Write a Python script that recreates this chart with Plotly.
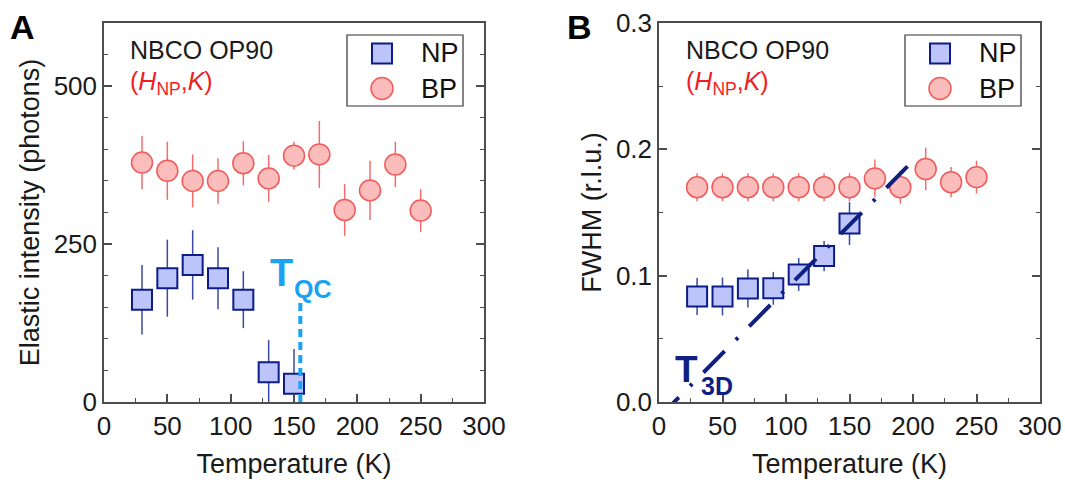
import plotly.graph_objects as go

# ---------------- data ----------------
T_np = [30, 50, 70, 90, 110, 130, 150]
T_bp = [30, 50, 70, 90, 110, 130, 150, 170, 190, 210, 230, 250]

int_np = [162, 196, 217, 196, 162, 47, 29]
int_np_err = [55, 61, 55, 49, 45, 51, 55]
int_bp = [379, 366, 350, 350, 378, 354, 390, 392, 304, 335, 376, 303]
int_bp_err = [42, 46, 42, 36, 35, 37, 22, 53, 41, 47, 36, 34]

fwhm_np = [0.0835, 0.0835, 0.0898, 0.0900, 0.1010, 0.1155, 0.1412]
fwhm_np_err = [0.0147, 0.0150, 0.0150, 0.0130, 0.0130, 0.0120, 0.0170]
fwhm_bp = [0.170, 0.170, 0.170, 0.170, 0.170, 0.170, 0.170, 0.177, 0.170, 0.1844, 0.174, 0.178]
fwhm_bp_err = [0.011, 0.011, 0.011, 0.011, 0.011, 0.011, 0.011, 0.015, 0.013, 0.017, 0.012, 0.013]

tqc_T = [155, 155]
tqc_y = [0, 161]
t3d_fit_T = [-1, 197.6]
t3d_fit_w = [-0.0132, 0.1884]

x_ticks = [0, 50, 100, 150, 200, 250, 300]

# ---------------- styles ----------------
FONT = "Liberation Sans, Arial, sans-serif"
NP_FILL, NP_EDGE, NP_ERR = "#bcc4fa", "#0c1c8a", "#3a4aa0"
BP_FILL, BP_EDGE, BP_ERR = "#fbbcbc", "#f25a5a", "#f26c6c"
QC_COL = "#1aa3f2"
T3D_COL = "#0f1f82"
AX_COL = "#4d4d4d"

W, H = 1065, 485
ML, MR, MT, MB = 104, 25, 23, 83
PW, PH = W - ML - MR, H - MT - MB


def px(x):
    return (x - ML) / PW


def py(y):
    return (H - MB - y) / PH


fig = go.Figure()

# Panel A
fig.add_trace(go.Scatter(
    x=T_np, y=int_np, mode="markers", name="NP", xaxis="x", yaxis="y",
    error_y=dict(type="data", array=int_np_err, color=NP_ERR, thickness=1.5, width=0),
    marker=dict(symbol="square", size=20, color=NP_FILL, line=dict(color=NP_EDGE, width=2)),
    showlegend=False))
fig.add_trace(go.Scatter(
    x=T_bp, y=int_bp, mode="markers", name="BP", xaxis="x", yaxis="y",
    error_y=dict(type="data", array=int_bp_err, color=BP_ERR, thickness=1.5, width=0),
    marker=dict(symbol="circle", size=21, color=BP_FILL, line=dict(color=BP_EDGE, width=1.5)),
    showlegend=False))
fig.add_trace(go.Scatter(
    x=tqc_T, y=tqc_y, mode="lines", xaxis="x", yaxis="y",
    line=dict(color=QC_COL, width=4, dash="8px,5px"), showlegend=False))

# Panel B
fig.add_trace(go.Scatter(
    x=T_np, y=fwhm_np, mode="markers", name="NP", xaxis="x2", yaxis="y2",
    error_y=dict(type="data", array=fwhm_np_err, color=NP_ERR, thickness=1.5, width=0),
    marker=dict(symbol="square", size=20, color=NP_FILL, line=dict(color=NP_EDGE, width=2)),
    showlegend=False))
fig.add_trace(go.Scatter(
    x=T_bp, y=fwhm_bp, mode="markers", name="BP", xaxis="x2", yaxis="y2",
    error_y=dict(type="data", array=fwhm_bp_err, color=BP_ERR, thickness=1.5, width=0),
    marker=dict(symbol="circle", size=21, color=BP_FILL, line=dict(color=BP_EDGE, width=1.5)),
    showlegend=False))
fig.add_trace(go.Scatter(
    x=t3d_fit_T, y=t3d_fit_w, mode="lines", xaxis="x2", yaxis="y2",
    line=dict(color=T3D_COL, width=4, dash="30px,16px,3px,16px"), showlegend=False))


def xax(domain):
    return dict(
        domain=domain, range=[0, 300], tickmode="array", tickvals=x_ticks,
        ticks="inside", ticklen=8, tickwidth=1.5, tickcolor=AX_COL,
        minor=dict(ticks="inside", ticklen=4, tickwidth=1.2, tickcolor=AX_COL, dtick=25, tick0=0),
        showline=True, linecolor=AX_COL, linewidth=1.5, mirror=True,
        showgrid=False, zeroline=False,
        tickfont=dict(size=26, color="#1a1a1a", family=FONT),
        title=dict(text="Temperature (K)", font=dict(size=27, color="#1a1a1a", family=FONT), standoff=14),
    )


def yax(rng, dtick, mdtick, fmt, title, anchor):
    return dict(
        domain=[0, 1], range=rng, tickmode="linear", tick0=0, dtick=dtick, tickformat=fmt,
        anchor=anchor,
        ticks="inside", ticklen=8, tickwidth=1.5, tickcolor=AX_COL,
        minor=dict(ticks="inside", ticklen=4, tickwidth=1.2, tickcolor=AX_COL, dtick=mdtick, tick0=0),
        showline=True, linecolor=AX_COL, linewidth=1.5, mirror="ticks",
        showgrid=False, zeroline=False,
        tickfont=dict(size=26, color="#1a1a1a", family=FONT),
        title=dict(text=title, font=dict(size=27, color="#1a1a1a", family=FONT), standoff=6),
    )


xA = xax([0, 380 / PW])
xB = xax([(659 - ML) / PW, 1])
xA["anchor"] = "y"
xB["anchor"] = "y2"

shapes = []
annotations = []


def legend(box_l, box_r):
    # frame
    shapes.append(dict(type="rect", xref="paper", yref="paper",
                       x0=px(box_l), x1=px(box_r), y0=py(106), y1=py(35),
                       line=dict(color="#333333", width=1.2), fillcolor="rgba(0,0,0,0)"))
    sx = box_l + 35
    shapes.append(dict(type="rect", xref="paper", yref="paper", xsizemode="pixel", ysizemode="pixel",
                       xanchor=px(sx), yanchor=py(53.5), x0=-10, x1=10, y0=-10, y1=10,
                       line=dict(color=NP_EDGE, width=2), fillcolor=NP_FILL))
    shapes.append(dict(type="circle", xref="paper", yref="paper", xsizemode="pixel", ysizemode="pixel",
                       xanchor=px(sx), yanchor=py(88.5), x0=-11, x1=11, y0=-11, y1=11,
                       line=dict(color=BP_EDGE, width=1.5), fillcolor=BP_FILL))
    for txt, yy in (("NP", 53.5), ("BP", 88.5)):
        annotations.append(dict(text=txt, xref="paper", yref="paper", x=px(box_l + 72), y=py(yy),
                                xanchor="left", yanchor="middle", showarrow=False,
                                font=dict(size=27, color="#111111", family=FONT)))


def label(text, x, y, size, color, bold=False):
    annotations.append(dict(text=(f"<b>{text}</b>" if bold else text), xref="paper", yref="paper",
                            x=px(x), y=py(y), xanchor="left", yanchor="middle", showarrow=False,
                            font=dict(size=size, color=color, family=FONT)))


for x0, lab, bl, br in ((128, "A", 347, 463), (684, "B", 905, 1021)):
    label("NBCO OP90", x0, 50, 25, "#1a1a1a")
    label("(<i>H</i><sub>NP</sub>,<i>K</i>)", x0, 83, 25, "#f01e23")
    legend(bl, br)

label("A", 8, 27, 34, "#000000", bold=True)
label("B", 565, 27, 34, "#000000", bold=True)

label("T", 268, 273, 38, QC_COL, bold=True)
label("QC", 292, 289, 25, QC_COL, bold=True)
label("T", 673, 369, 37, T3D_COL, bold=True)
label("3D", 699, 386, 25, T3D_COL, bold=True)

fig.update_layout(
    width=W, height=H,
    margin=dict(l=ML, r=MR, t=MT, b=MB, autoexpand=False),
    paper_bgcolor="white", plot_bgcolor="white",
    font=dict(family=FONT, color="#1a1a1a"),
    xaxis=xA, xaxis2=xB,
    yaxis=yax([0, 600], 250, 50, "d", "Elastic intensity (photons)", "x"),
    yaxis2=yax([0, 0.3], 0.1, 0.05, ".1f", "FWHM (r.l.u.)", "x2"),
    shapes=shapes, annotations=annotations, showlegend=False,
)

fig.write_html("out.html")
